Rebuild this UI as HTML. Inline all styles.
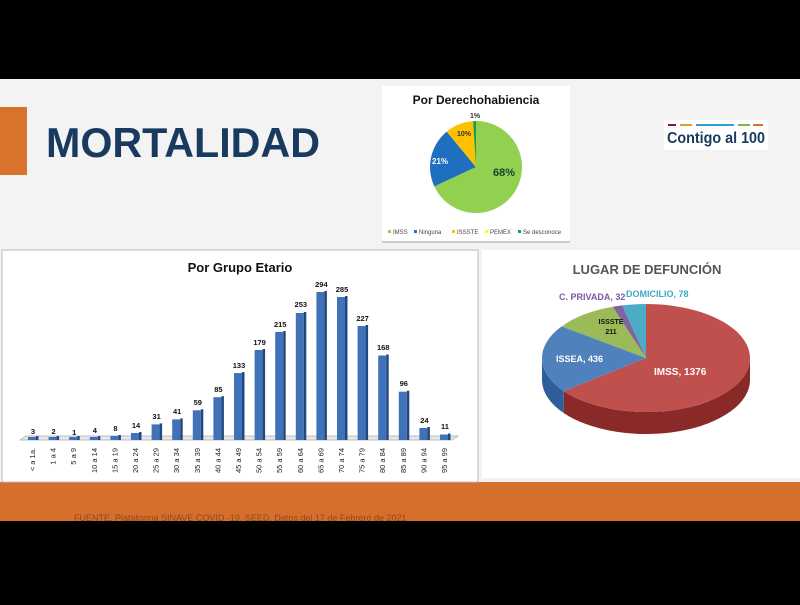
<!DOCTYPE html>
<html><head><meta charset="utf-8"><style>
body{margin:0;width:800px;height:600px;background:#000;overflow:hidden;font-family:"Liberation Sans",sans-serif}
</style></head><body>
<svg width="800" height="600" xmlns="http://www.w3.org/2000/svg" font-family="Liberation Sans, sans-serif">
<rect x="0" y="0" width="800" height="600" fill="#000"/>
<rect x="0" y="79" width="800" height="442" fill="#f3f3f3"/>
<rect x="0" y="107" width="27" height="68" fill="#d9732c"/>
<text x="46" y="157" font-size="42" font-weight="bold" fill="#173a5e" textLength="274" lengthAdjust="spacingAndGlyphs">MORTALIDAD</text>
<!-- logo -->
<rect x="664" y="120" width="104" height="30" fill="#fff"/>
<rect x="668" y="124" width="8" height="2" fill="#7a1f3d"/><rect x="680" y="124" width="12" height="2" fill="#e0a030"/><rect x="696" y="124" width="38" height="2" fill="#2aa0d8"/><rect x="738" y="124" width="12" height="2" fill="#7ab648"/><rect x="753" y="124" width="10" height="2" fill="#d9732c"/>
<text x="667" y="143" font-size="16" font-weight="bold" fill="#173a5e" textLength="98" lengthAdjust="spacingAndGlyphs">Contigo al 100</text>
<!-- small pie card -->
<rect x="382" y="86" width="188" height="156" fill="#fff"/>
<rect x="382" y="241" width="188" height="2" fill="#ccc"/>
<text x="476" y="104" font-size="12" font-weight="bold" text-anchor="middle" fill="#111">Por Derechohabiencia</text>
<path d="M476,167 L476,121 A46,46 0 1 1 434.3,186.4 Z" fill="#92d050"/>
<path d="M476,167 L434.3,186.4 A46,46 0 0 1 446.7,131.6 Z" fill="#1f6fc0"/>
<path d="M476,167 L446.7,131.6 A46,46 0 0 1 473.1,121.1 Z" fill="#ffc000"/>
<path d="M476,167 L473.1,121.1 A46,46 0 0 1 476,121 Z" fill="#1a9a50"/>
<text x="493" y="176" font-size="11" font-weight="bold" fill="#143" >68%</text>
<text x="432" y="164" font-size="8" font-weight="bold" fill="#fff">21%</text>
<text x="457" y="136" font-size="7" font-weight="bold" fill="#333">10%</text>
<text x="470" y="118" font-size="7" font-weight="bold" fill="#333">1%</text>
<g font-size="6" fill="#444">
<rect x="388" y="230" width="3" height="3" fill="#92d050"/><text x="393" y="234">IMSS</text>
<rect x="414" y="230" width="3" height="3" fill="#1f6fc0"/><text x="419" y="234">Ninguna</text>
<rect x="452" y="230" width="3" height="3" fill="#ffc000"/><text x="457" y="234">ISSSTE</text>
<rect x="485" y="230" width="3" height="3" fill="#ffff00"/><text x="490" y="234">PEMEX</text>
<rect x="518" y="230" width="3" height="3" fill="#1a9a50"/><text x="523" y="234">Se desconoce</text>
</g>
<!-- orange band -->
<rect x="0" y="482" width="800" height="39" fill="#d56f2b"/>
<text x="74" y="521" font-size="9" fill="#8a4a20">FUENTE. Plataforma SINAVE COVID -19, SEED. Datos del 17 de Febrero de 2021</text>
<!-- left chart -->
<rect x="2" y="250" width="476" height="232" fill="#fff" stroke="#bbb"/>
<text x="240" y="272" font-size="13" font-weight="bold" text-anchor="middle" fill="#111">Por Grupo Etario</text>
<path d="M20,440 L26,436 L458,436 L452,440 Z" fill="#e8e8e8" stroke="#aaa" stroke-width="0.7"/>
<g fill="#3f72b8">
<rect x="28" y="437" width="8" height="3"/><rect x="48.6" y="437" width="8" height="3"/><rect x="69.2" y="437" width="8" height="3"/><rect x="89.8" y="437" width="8" height="3"/><rect x="110.4" y="436" width="8" height="4"/><rect x="131" y="433" width="8" height="7"/><rect x="151.6" y="424.4" width="8" height="15.6"/><rect x="172.2" y="419.4" width="8" height="20.6"/><rect x="192.8" y="410.3" width="8" height="29.7"/><rect x="213.4" y="397.2" width="8" height="42.8"/><rect x="234" y="373.1" width="8" height="66.9"/><rect x="254.6" y="350" width="8" height="90"/><rect x="275.2" y="332" width="8" height="108"/><rect x="295.8" y="313" width="8" height="127"/><rect x="316.4" y="292" width="8" height="148"/><rect x="337" y="297" width="8" height="143"/><rect x="357.6" y="326" width="8" height="114"/><rect x="378.2" y="355.5" width="8" height="84.5"/><rect x="398.8" y="391.7" width="8" height="48.3"/><rect x="419.4" y="428" width="8" height="12"/><rect x="440" y="434.5" width="8" height="5.5"/>
</g>
<g fill="#23487e">
<rect x="36" y="436" width="2.5" height="4"/><rect x="56.6" y="436" width="2.5" height="4"/><rect x="77.2" y="436" width="2.5" height="4"/><rect x="97.8" y="436" width="2.5" height="4"/><rect x="118.4" y="435" width="2.5" height="5"/><rect x="139" y="432" width="2.5" height="8"/><rect x="159.6" y="423.4" width="2.5" height="16.6"/><rect x="180.2" y="418.4" width="2.5" height="21.6"/><rect x="200.8" y="409.3" width="2.5" height="30.7"/><rect x="221.4" y="396.2" width="2.5" height="43.8"/><rect x="242" y="372.1" width="2.5" height="67.9"/><rect x="262.6" y="349" width="2.5" height="91"/><rect x="283.2" y="331" width="2.5" height="109"/><rect x="303.8" y="312" width="2.5" height="128"/><rect x="324.4" y="291" width="2.5" height="149"/><rect x="345" y="296" width="2.5" height="144"/><rect x="365.6" y="325" width="2.5" height="115"/><rect x="386.2" y="354.5" width="2.5" height="85.5"/><rect x="406.8" y="390.7" width="2.5" height="49.3"/><rect x="427.4" y="427" width="2.5" height="13"/><rect x="448" y="433.5" width="2.5" height="6.5"/>
</g>
<g font-size="7.5" font-weight="bold" text-anchor="middle" fill="#111">
<text x="33" y="434">3</text><text x="53.6" y="434">2</text><text x="74.2" y="435">1</text><text x="94.8" y="433">4</text><text x="115.4" y="431">8</text><text x="136" y="428">14</text><text x="156.6" y="419">31</text><text x="177.2" y="414">41</text><text x="197.8" y="405">59</text><text x="218.4" y="392">85</text><text x="239" y="368">133</text><text x="259.6" y="345">179</text><text x="280.2" y="327">215</text><text x="300.8" y="307">253</text><text x="321.4" y="287">294</text><text x="342" y="292">285</text><text x="362.6" y="321">227</text><text x="383.2" y="350">168</text><text x="403.8" y="386">96</text><text x="424.4" y="423">24</text><text x="445" y="429">11</text>
</g>
<g font-size="7.5" fill="#222" text-anchor="end">
<text transform="translate(35,448) rotate(-90)">&lt; a 1a.</text><text transform="translate(55.6,448) rotate(-90)">1 a 4</text><text transform="translate(76.2,448) rotate(-90)">5 a 9</text><text transform="translate(96.8,448) rotate(-90)">10 a 14</text><text transform="translate(117.4,448) rotate(-90)">15 a 19</text><text transform="translate(138,448) rotate(-90)">20 a 24</text><text transform="translate(158.6,448) rotate(-90)">25 a 29</text><text transform="translate(179.2,448) rotate(-90)">30 a 34</text><text transform="translate(199.8,448) rotate(-90)">35 a 39</text><text transform="translate(220.4,448) rotate(-90)">40 a 44</text><text transform="translate(241,448) rotate(-90)">45 a 49</text><text transform="translate(261.6,448) rotate(-90)">50 a 54</text><text transform="translate(282.2,448) rotate(-90)">55 a 59</text><text transform="translate(302.8,448) rotate(-90)">60 a 64</text><text transform="translate(323.4,448) rotate(-90)">65 a 69</text><text transform="translate(344,448) rotate(-90)">70 a 74</text><text transform="translate(364.6,448) rotate(-90)">75 a 79</text><text transform="translate(385.2,448) rotate(-90)">80 a 84</text><text transform="translate(405.8,448) rotate(-90)">85 a 89</text><text transform="translate(426.4,448) rotate(-90)">90 a 94</text><text transform="translate(447,448) rotate(-90)">95 a 99</text>
</g>
<!-- right chart -->
<rect x="482" y="250" width="318" height="228" fill="#fff"/>
<text x="647" y="274" font-size="13" font-weight="bold" text-anchor="middle" fill="#555">LUGAR DE DEFUNCIÓN</text>
<path d="M750,358 A104,54 0 0 1 563.8,391.1 L563.8,413.1 A104,54 0 0 0 750,380 Z" fill="#8a2a28"/>
<path d="M563.8,391.1 A104,54 0 0 1 542,358 L542,380 A104,54 0 0 0 563.8,413.1 Z" fill="#2f5f9a"/>
<path d="M646,358 L646,304 A104,54 0 1 1 563.8,391.1 Z" fill="#c0504d"/>
<path d="M646,358 L563.8,391.1 A104,54 0 0 1 561.7,326.4 Z" fill="#4f81bd"/>
<path d="M646,358 L561.7,326.4 A104,54 0 0 1 612.8,306.8 Z" fill="#9bbb59"/>
<path d="M646,358 L612.8,306.8 A104,54 0 0 1 622.3,305.4 Z" fill="#8064a2"/>
<path d="M646,358 L622.3,305.4 A104,54 0 0 1 646,304 Z" fill="#4bacc6"/>
<text x="654" y="375" font-size="10" font-weight="bold" fill="#fff">IMSS, 1376</text>
<text x="556" y="362" font-size="9" font-weight="bold" fill="#fff">ISSEA, 436</text>
<text x="611" y="324" font-size="7" font-weight="bold" text-anchor="middle" fill="#111">ISSSTE</text>
<text x="611" y="334" font-size="7" font-weight="bold" text-anchor="middle" fill="#111">211</text>
<text x="559" y="300" font-size="9" font-weight="bold" fill="#7a5aa8">C. PRIVADA, 32</text>
<text x="626" y="297" font-size="9" font-weight="bold" fill="#3fa8c8">DOMICILIO, 78</text>
</svg>
</body></html>
